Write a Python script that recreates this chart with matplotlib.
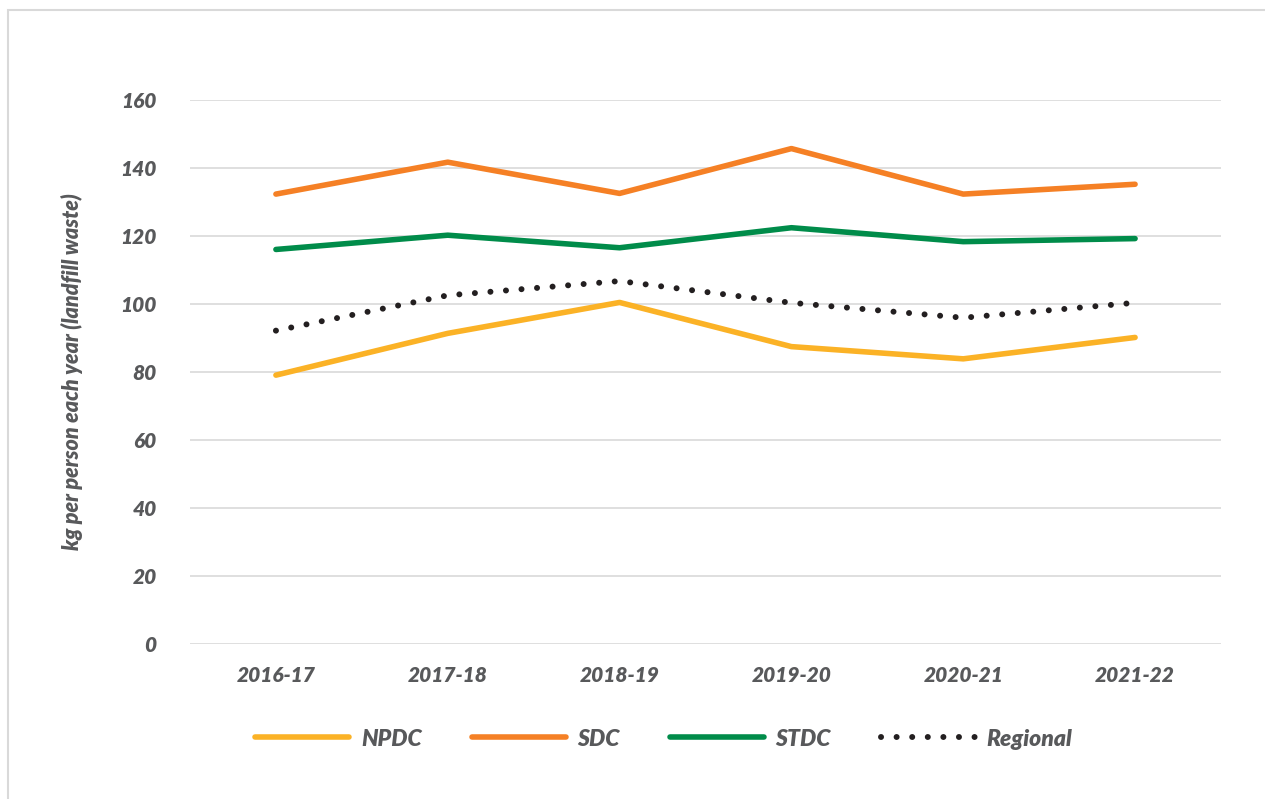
import matplotlib
matplotlib.use("Agg")
import matplotlib.pyplot as plt
from matplotlib.patches import Rectangle

years = ["2016-17", "2017-18", "2018-19", "2019-20", "2020-21", "2021-22"]
npdc = [79.0, 91.3, 100.4, 87.4, 83.8, 90.1]
sdc = [132.3, 141.7, 132.5, 145.7, 132.3, 135.2]
stdc = [116.0, 120.2, 116.5, 122.4, 118.3, 119.2]
regional = [92.1, 102.5, 106.7, 100.3, 95.9, 100.3]

yticks = [0, 20, 40, 60, 80, 100, 120, 140, 160]

text_col = "#58595B"
grid_col = "#D9D9D9"
font = dict(family=["Lato", "DejaVu Sans"], weight="heavy", style="italic")

fig = plt.figure(figsize=(12.65, 7.99), dpi=100)
ax = fig.add_axes([190 / 1265, 1 - 643.5 / 799, 1031 / 1265, 543.5 / 799])

x = range(len(years))
ax.plot(x, npdc, color="#FBB226", lw=4, solid_capstyle="round", label="NPDC")
ax.plot(x, sdc, color="#F58025", lw=4, solid_capstyle="round", label="SDC")
ax.plot(x, stdc, color="#008C4A", lw=4, solid_capstyle="round", label="STDC")
ax.plot(x, regional, color="#231F20", lw=4.3, linestyle=(0, (0.01, 2.6)),
        dash_capstyle="round", label="Regional")

ax.set_xlim(-0.5, len(years) - 0.5)
ax.set_ylim(0, 160)
ax.set_yticks(yticks)
ax.set_xticks(list(x))
ax.set_xticklabels(years)
for s in ax.spines.values():
    s.set_visible(False)
ax.grid(axis="y", color=grid_col, lw=1.2)
ax.set_axisbelow(True)
ax.tick_params(length=0, colors=text_col, labelsize=15)
ax.tick_params(axis="y", pad=24)
ax.tick_params(axis="x", pad=16)
for lab in ax.get_xticklabels() + ax.get_yticklabels():
    lab.set_fontfamily(font["family"])
    lab.set_fontweight(font["weight"])
    lab.set_fontstyle("italic")

ax.set_ylabel("kg per person each year (landfill waste)", color=text_col,
              fontsize=15.5, labelpad=27, **font)

leg = fig.legend(loc="center", bbox_to_anchor=(664 / 1265, 1 - 739 / 799),
                 ncol=4, frameon=False, handlelength=4.1, handletextpad=0.5,
                 columnspacing=2.2, prop=dict(size=16.5, **font))
for t in leg.get_texts():
    t.set_color(text_col)

fig.add_artist(Rectangle((8 / 1265, -0.1), 1.2, 0.1 + 1 - 10 / 799,
                         transform=fig.transFigure, fill=False,
                         edgecolor=grid_col, lw=1.5))

fig.savefig("out.png", dpi=100)
